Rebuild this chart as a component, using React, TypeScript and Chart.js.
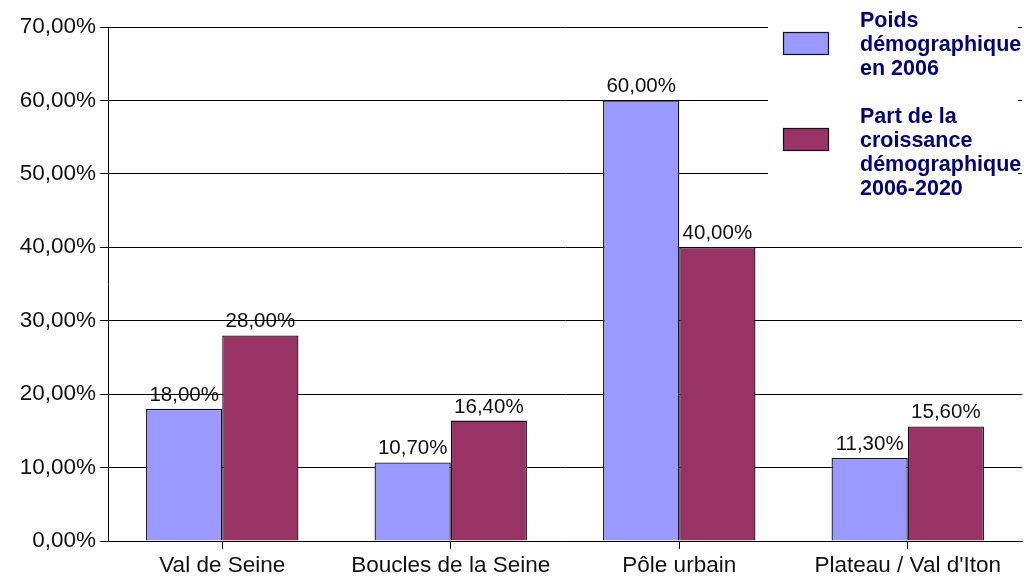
import React, { useEffect, useRef } from "react";
import { Chart, registerables } from "chart.js";

Chart.register(...registerables);

const categories = ["Val de Seine", "Boucles de la Seine", "Pôle urbain", "Plateau / Val d'Iton"];
const poids2006 = [18, 10.7, 60, 11.3];
const croissance = [28, 16.4, 40, 15.6];
const seriesLabels = ["Poids démographique en 2006", "Part de la croissance démographique 2006-2020"];
const seriesColors = ["#9999FF", "#993366"];
const yMin = 0;
const yMax = 70;
const yStep = 10;

const FONT = "'Liberation Sans', Arial, sans-serif";
const fmt = (v: number) => Number(v).toFixed(2).replace(".", ",") + "%";

function wrap(ctx: CanvasRenderingContext2D, text: string, maxW: number): string[] {
  const words = text.split(" ");
  const lines: string[] = [];
  let cur = "";
  for (const w of words) {
    const test = cur ? cur + " " + w : w;
    if (cur && ctx.measureText(test).width > maxW) {
      lines.push(cur);
      cur = w;
    } else {
      cur = test;
    }
  }
  if (cur) lines.push(cur);
  return lines;
}

const valueLabels = {
  id: "valueLabels",
  afterDatasetsDraw(chart: any) {
    const ctx = chart.ctx as CanvasRenderingContext2D;
    ctx.save();
    ctx.font = `20.5px ${FONT}`;
    ctx.fillStyle = "#111";
    ctx.textAlign = "center";
    ctx.textBaseline = "alphabetic";
    chart.data.datasets.forEach((ds: any, i: number) => {
      chart.getDatasetMeta(i).data.forEach((bar: any, j: number) => {
        ctx.fillText(fmt(ds.data[j]), bar.x, bar.y - 8);
      });
    });
    ctx.restore();
  },
};

const sideLegend = {
  id: "sideLegend",
  afterDraw(chart: any) {
    const ctx = chart.ctx as CanvasRenderingContext2D;
    const right = chart.chartArea.right;
    ctx.save();
    ctx.fillStyle = "#ffffff";
    ctx.fillRect(768, 0, 250, 205);
    ctx.beginPath();
    ctx.rect(0, 0, right + 1, chart.height);
    ctx.clip();
    ctx.font = `bold 21.5px ${FONT}`;
    ctx.textAlign = "left";
    ctx.textBaseline = "alphabetic";
    let y = 27;
    const lh = 24;
    chart.data.datasets.forEach((ds: any) => {
      const lines = wrap(ctx, ds.label, 145);
      ctx.fillStyle = ds.backgroundColor;
      ctx.fillRect(783, y + 5, 45, 22);
      ctx.strokeStyle = "#111";
      ctx.lineWidth = 1.2;
      ctx.strokeRect(783.5, y + 5.5, 45, 22);
      ctx.fillStyle = "#000080";
      lines.forEach((ln, k) => ctx.fillText(ln, 860, y + k * lh));
      y += (lines.length + 1) * lh;
    });
    ctx.restore();
  },
};

export default function App() {
  const ref = useRef<HTMLCanvasElement>(null);
  useEffect(() => {
    if (!ref.current) return;
    const chart = new Chart(ref.current, {
      type: "bar",
      data: {
        labels: categories,
        datasets: [
          {
            label: seriesLabels[0],
            data: poids2006,
            backgroundColor: seriesColors[0],
            borderColor: "#111",
            borderWidth: 1.3,
            barPercentage: 1,
            categoryPercentage: 0.667,
          },
          {
            label: seriesLabels[1],
            data: croissance,
            backgroundColor: seriesColors[1],
            borderColor: "#111",
            borderWidth: 1.3,
            barPercentage: 1,
            categoryPercentage: 0.667,
          },
        ],
      },
      options: {
        responsive: false,
        animation: false,
        devicePixelRatio: 1,
        layout: { padding: { top: 27, right: 8, left: 0, bottom: 0 } },
        plugins: {
          legend: { display: false },
          tooltip: { enabled: false },
        },
        scales: {
          x: {
            ticks: { font: { size: 22.5, family: FONT }, color: "#111", padding: 3 },
            grid: {
              display: true,
              drawOnChartArea: false,
              drawTicks: true,
              tickLength: 8,
              offset: false,
              color: "#000",
            },
            border: { display: true, color: "#000", width: 1 },
            afterFit(scale: any) {
              scale.height = 37;
            },
          },
          y: {
            min: yMin,
            max: yMax,
            ticks: {
              stepSize: yStep,
              callback: (v: any) => fmt(Number(v)),
              font: { size: 22.5, family: FONT },
              color: "#111",
              padding: 4,
            },
            grid: { color: "#000", lineWidth: 1, drawTicks: true, tickLength: 8 },
            border: { display: true, color: "#000", width: 1 },
            afterFit(scale: any) {
              scale.width = 108;
            },
          },
        },
      },
      plugins: [valueLabels, sideLegend],
    });
    return () => chart.destroy();
  }, []);
  return (
    <div style={{ position: "fixed", left: 0, top: 0, width: 1030, height: 578, background: "#fff" }}>
      <canvas ref={ref} width={1030} height={578} style={{ display: "block" }} />
    </div>
  );
}
